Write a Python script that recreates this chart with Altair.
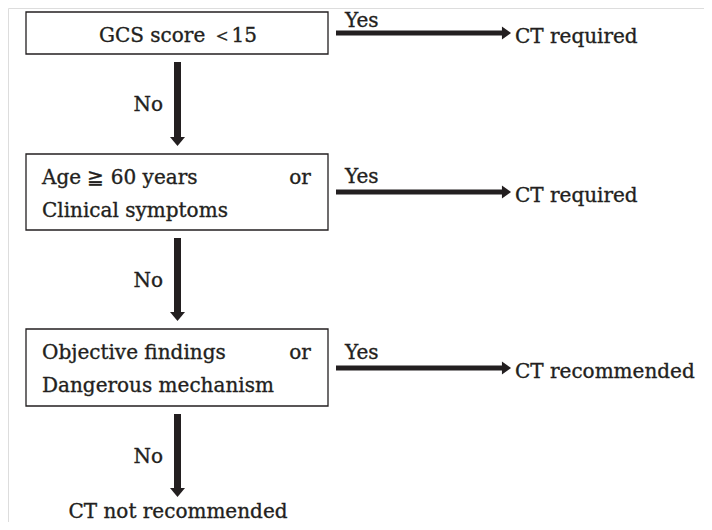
import altair as alt
import pandas as pd

# ---- diagram content ----
box_lines = [
    ["GCS score \uff1c15"],
    ["Age \u2267 60 years", "Clinical symptoms"],
    ["Objective findings", "Dangerous mechanism"],
]
box_or = ["", "or", "or"]
yes_labels = ["Yes", "Yes", "Yes"]
outcomes = ["CT required", "CT required", "CT recommended"]
no_labels = ["No", "No", "No"]
final_outcome = "CT not recommended"

# ---- layout (pixel coordinates of the page) ----
box_x0, box_x1 = 26, 328
box_top = [12, 154, 329]
box_bot = [54, 230, 406]
arrow_y = [33, 192, 368]
yes_gap = [6, 9, 9]
center_x = 177.5
font = "DejaVu Serif"
fs = 20
ink = "#231f20"

rects, texts, vrules, hrules, heads_down, heads_right = [], [], [], [], [], []
for i in range(3):
    rects.append({"x": box_x0, "x2": box_x1, "y": box_top[i], "y2": box_bot[i]})
    lines = box_lines[i]
    if len(lines) == 1:
        texts.append({"x": 178, "y": box_bot[i] - 12, "t": lines[0], "a": "center"})
    else:
        texts.append({"x": 42, "y": box_top[i] + 30, "t": lines[0], "a": "left"})
        texts.append({"x": 42, "y": box_top[i] + 63, "t": lines[1], "a": "left"})
        texts.append({"x": 300, "y": box_top[i] + 30, "t": box_or[i], "a": "center"})
    ay = arrow_y[i]
    hrules.append({"x": 336, "x2": 503, "y": ay})
    heads_right.append({"x": 506.5, "y": ay})
    texts.append({"x": 345, "y": ay - yes_gap[i], "t": yes_labels[i], "a": "left"})
    texts.append({"x": 515, "y": ay + 10, "t": outcomes[i], "a": "left"})
    y_start = box_bot[i] + 8
    tip = (box_top[i + 1] if i < 2 else 505) - 8
    vrules.append({"x": center_x, "y": y_start, "y2": tip - 8})
    heads_down.append({"x": center_x, "y": tip - 4.5})
    texts.append({"x": 163, "y": (y_start + tip) / 2 + 7, "t": no_labels[i], "a": "right"})

texts.append({"x": 178, "y": 518, "t": final_outcome, "a": "center"})

xs = alt.Scale(domain=[8, 704], nice=False, zero=False)
ys = alt.Scale(domain=[8, 522], nice=False, zero=False, reverse=True)
X = lambda f="x": alt.X(f"{f}:Q", scale=xs, axis=None)
Y = lambda f="y": alt.Y(f"{f}:Q", scale=ys, axis=None)

rect_layer = alt.Chart(pd.DataFrame(rects)).mark_rect(
    fill="white", stroke=ink, strokeWidth=1.3
).encode(x=X(), x2="x2:Q", y=Y(), y2="y2:Q")

vrule_layer = alt.Chart(pd.DataFrame(vrules)).mark_rule(
    color=ink, strokeWidth=7
).encode(x=X(), y=Y(), y2="y2:Q")

hrule_layer = alt.Chart(pd.DataFrame(hrules)).mark_rule(
    color=ink, strokeWidth=5
).encode(x=X(), x2="x2:Q", y=Y())

down_layer = alt.Chart(pd.DataFrame(heads_down)).mark_point(
    shape="M-1,-0.6L1,-0.6L0,0.6Z", filled=True, color=ink, opacity=1, size=225
).encode(x=X(), y=Y())

right_layer = alt.Chart(pd.DataFrame(heads_right)).mark_point(
    shape="M-0.7,-1L-0.7,1L0.7,0Z", filled=True, color=ink, opacity=1, size=169
).encode(x=X(), y=Y())

def text_layer(align):
    d = pd.DataFrame([t for t in texts if t["a"] == align])
    return alt.Chart(d).mark_text(
        align=align, baseline="alphabetic", font=font, fontSize=fs, color=ink,
        stroke=ink, strokeWidth=0.35
    ).encode(x=X(), y=Y(), text="t:N")

chart = alt.layer(
    rect_layer, vrule_layer, hrule_layer, down_layer, right_layer,
    text_layer("left"), text_layer("center"), text_layer("right"),
).properties(
    width=696, height=514, padding=0, autosize=alt.AutoSizeParams(type="none")
).configure_view(stroke=None, strokeWidth=0).configure(background="white")

chart.save("out.html", embed_options={"renderer": "svg", "actions": False})
